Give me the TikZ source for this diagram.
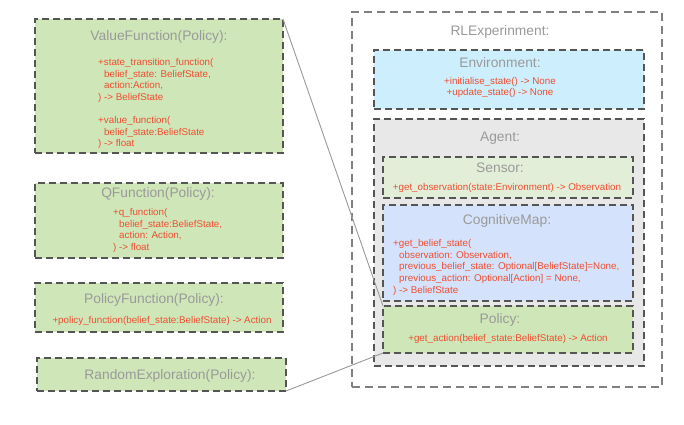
\documentclass[tikz,border=0pt]{standalone}
\usepackage{fontspec}
\setmainfont{Liberation Sans}
\definecolor{titlegray}{HTML}{9A9A9A}
\definecolor{methred}{HTML}{F04E30}
\definecolor{boxgreen}{HTML}{CFE6B8}
\definecolor{lightgreen}{HTML}{E2EED8}
\definecolor{envblue}{HTML}{CDEEFC}
\definecolor{cmblue}{HTML}{D5E2FB}
\definecolor{agentgray}{HTML}{E8E8E8}
\definecolor{bordergray}{HTML}{555555}
\definecolor{outergray}{HTML}{808080}
\definecolor{linkgray}{HTML}{999999}
\tikzset{
  box/.style={draw=bordergray, line width=1.4pt, dash pattern=on 7pt off 4pt,
    inner sep=0pt, outer sep=0pt, rectangle},
  outerbox/.style={draw=outergray, line width=1.3pt, dash pattern=on 8pt off 5pt,
    inner sep=0pt, outer sep=0pt, rectangle, fill=white},
  ttl/.style={text=titlegray, font=\fontsize{13.8}{16}\selectfont, inner sep=0pt},
  meth/.style={text=methred, font=\fontsize{9.8}{11.6}\selectfont, inner sep=0pt},
  link/.style={draw=linkgray, line width=0.9pt},
}
\begin{document}
\begin{tikzpicture}[x=1pt,y=-1pt]
\useasboundingbox (0,0) rectangle (684,424);
\fill[white] (0,0) rectangle (684,424);

% left column
\node[box, fill=boxgreen, minimum width=248pt, minimum height=134pt] (vf) at (159,86) {};
\node[ttl] (vft) at (159,37) {ValueFunction(Policy):};
\node[meth, anchor=north west, align=left] (vfm) at (98,58.4) {+state\_transition\_function(\\
\hspace*{6pt}belief\_state: BeliefState,\\
\hspace*{6pt}action:Action,\\
) -> BeliefState\\[11.6pt]
+value\_function(\\
\hspace*{6pt}belief\_state:BeliefState\\
) -> float};

\node[box, fill=boxgreen, minimum width=248pt, minimum height=75pt] (qf) at (159,220.5) {};
\node[ttl] (qft) at (158,194) {QFunction(Policy):};
\node[meth, anchor=north west, align=left] (qfm) at (113,208.4) {+q\_function(\\
\hspace*{6pt}belief\_state:BeliefState,\\
\hspace*{6pt}action: Action,\\
) -> float};

\node[box, fill=boxgreen, minimum width=248pt, minimum height=49pt] (pf) at (159,307.5) {};
\node[ttl] (pft) at (154,300) {PolicyFunction(Policy):};
\node[meth] (pfm) at (162,321) {+policy\_function(belief\_state:BeliefState) -> Action};

\node[box, fill=boxgreen, minimum width=249pt, minimum height=33pt] (re) at (161.5,374.5) {};
\node[ttl] (ret) at (170,376) {RandomExploration(Policy):};

% right side
\node[outerbox, minimum width=310pt, minimum height=375pt] (rl) at (507,199.5) {};
\node[ttl] (rlt) at (500,32) {RLExperinment:};

\node[box, fill=envblue, minimum width=270pt, minimum height=59pt] (env) at (509,79.5) {};
\node[ttl] (envt) at (500,63) {Environment:};
\node[meth, align=center] (envm) at (500,87.5) {+initialise\_state() -> None\\+update\_state() -> None};

\node[box, fill=agentgray, minimum width=270pt, minimum height=247pt] (ag) at (509,242.5) {};
\node[ttl] (agt) at (500,138) {Agent:};

\node[box, fill=lightgreen, minimum width=250pt, minimum height=41pt] (sen) at (508,177.5) {};
\node[ttl] (sent) at (500,168) {Sensor:};
\node[meth] (senm) at (507,188) {+get\_observation(state:Environment) -> Observation};

\node[box, fill=cmblue, minimum width=250pt, minimum height=96pt] (cm) at (508,253) {};
\node[ttl] (cmt) at (507,221) {CognitiveMap:};
\node[meth, anchor=north west, align=left] (cmm) at (393,239.4) {+get\_belief\_state(\\
\hspace*{6pt}observation: Observation,\\
\hspace*{6pt}previous\_belief\_state: Optional[BeliefState]=None,\\
\hspace*{6pt}previous\_action: Optional[Action] = None,\\
) -> BeliefState};

\node[box, fill=boxgreen, minimum width=250pt, minimum height=47pt] (pol) at (508,329.5) {};
\node[ttl] (polt) at (500,320) {Policy:};
\node[meth] (polm) at (508,339) {+get\_action(belief\_state:BeliefState) -> Action};

% connectors
\draw[link] (vf.north east) -- (pol.north west);
\draw[link] (re.south east) -- (pol.south west);
\end{tikzpicture}
\end{document}
